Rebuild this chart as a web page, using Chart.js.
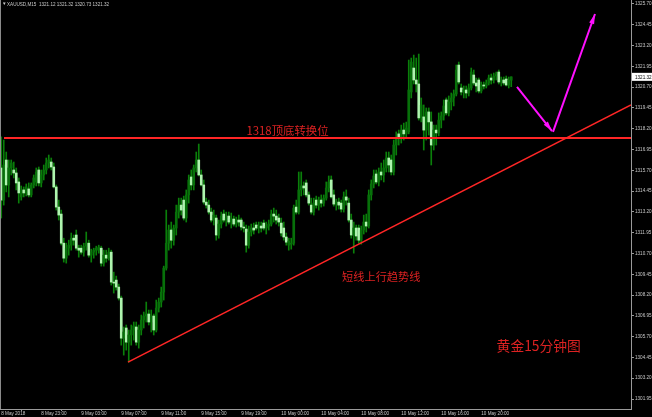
<!DOCTYPE html>
<html><head><meta charset="utf-8">
<script src="https://cdn.jsdelivr.net/npm/chart.js@4.4.1/dist/chart.umd.min.js"></script>
<style>html,body{margin:0;padding:0;background:#000;overflow:hidden}canvas{display:block}</style>
</head><body>
<canvas id="c" width="652" height="417"></canvas>
<script>
const symbolInfo = 'XAUUSD,M15';
const xTickLabels = ['8 May 2018','8 May 23:00','9 May 03:00','9 May 07:00','9 May 11:00','9 May 15:00','9 May 19:00','10 May 00:00','10 May 04:00','10 May 08:00','10 May 12:00','10 May 16:00','10 May 20:00'];
const barsPerTimeLabel = 16;
const yTickLabels = ['1325.70','1324.45','1323.20','1321.95','1320.70','1319.45','1318.20','1316.95','1315.70','1314.45','1313.20','1311.95','1310.70','1309.45','1308.20','1306.95','1305.70','1304.45','1303.20','1301.95'];

const opens = [1315.84,1313.91,1316.32,1314.82,1315.84,1315.72,1315.54,1315.00,1314.10,1314.52,1314.34,1314.58,1314.22,1314.82,1315.00,1315.72,1314.94,1315.42,1315.72,1316.14,
1316.20,1315.90,1314.70,1313.49,1313.07,1311.32,1310.42,1311.02,1311.20,1311.62,1311.81,1311.02,1311.02,1310.78,1311.14,1311.32,1310.60,1310.78,1310.90,1310.90,
1311.02,1310.12,1310.60,1310.42,1310.78,1308.98,1309.10,1308.68,1308.02,1305.61,1306.22,1305.37,1305.80,1306.10,1306.28,1305.37,1306.10,1306.70,1306.94,1307.06,
1306.58,1306.94,1306.10,1307.42,1307.78,1308.38,1309.82,1311.32,1312.11,1311.50,1312.23,1313.19,1313.61,1313.91,1312.83,1314.22,1315.30,1314.82,1315.84,1316.32,
1315.42,1314.82,1313.79,1313.61,1313.19,1312.71,1312.83,1311.81,1312.47,1313.07,1312.71,1312.95,1312.59,1312.77,1312.47,1312.71,1312.71,1312.29,1312.17,1311.20,
1311.99,1312.23,1312.41,1312.23,1312.35,1312.53,1312.23,1312.35,1312.47,1313.07,1312.95,1312.83,1312.53,1312.23,1311.69,1311.20,1311.26,1311.32,1313.49,1313.19,
1314.52,1314.76,1314.94,1314.22,1313.61,1313.19,1313.91,1313.61,1313.91,1313.73,1314.03,1314.64,1315.12,1314.22,1313.67,1313.79,1313.73,1313.37,1314.10,1313.73,
1312.71,1311.81,1312.23,1312.23,1311.50,1312.11,1312.59,1312.35,1314.22,1314.88,1315.48,1315.00,1315.60,1315.42,1315.84,1316.44,1316.32,1315.60,1317.22,1317.89,
1317.64,1318.12,1317.89,1318.01,1320.41,1321.85,1321.13,1320.89,1318.85,1318.91,1318.12,1319.21,1318.61,1317.22,1318.12,1317.95,1318.72,1318.97,1319.93,1319.15,
1319.81,1320.05,1320.29,1322.03,1320.65,1320.41,1320.53,1320.35,1320.65,1321.43,1320.95,1321.13,1320.47,1320.83,1320.77,1320.95,1321.25,1321.13,1321.37,1321.61,
1321.01,1321.13,1321.19,1320.83,1321.12];
const highs = [1317.71,1317.52,1316.80,1316.32,1316.32,1316.20,1315.84,1315.24,1314.76,1314.70,1314.88,1314.94,1314.94,1315.42,1315.84,1315.90,1315.72,1316.02,1316.44,1316.62,
1316.44,1316.14,1314.82,1313.91,1313.31,1311.62,1311.32,1311.50,1311.93,1311.81,1312.11,1311.20,1311.20,1311.32,1311.99,1311.50,1310.96,1311.02,1311.14,1311.20,
1311.14,1310.90,1310.90,1311.02,1310.90,1309.58,1309.34,1308.86,1308.14,1306.28,1306.40,1306.10,1306.40,1306.58,1306.58,1306.40,1307.00,1307.18,1307.78,1307.30,
1307.30,1307.06,1307.90,1308.02,1308.68,1309.94,1313.31,1312.41,1312.59,1312.41,1313.61,1314.03,1314.03,1314.15,1314.52,1315.42,1315.72,1316.02,1316.80,1317.28,
1315.72,1315.12,1314.03,1313.91,1313.43,1313.31,1313.01,1312.71,1313.19,1313.31,1313.19,1313.19,1313.13,1312.95,1312.89,1313.01,1312.83,1312.59,1312.41,1312.35,
1312.47,1312.53,1312.59,1312.59,1312.59,1312.71,1312.59,1312.71,1313.31,1313.43,1313.31,1313.07,1312.83,1312.59,1311.93,1311.62,1311.62,1313.61,1313.91,1315.60,
1315.60,1315.00,1315.12,1314.40,1314.03,1314.03,1314.15,1314.09,1314.22,1314.22,1315.00,1315.36,1315.36,1314.52,1313.97,1314.03,1313.91,1314.40,1314.52,1314.03,
1313.07,1312.59,1312.41,1312.41,1312.35,1313.01,1313.07,1314.52,1315.12,1315.72,1315.72,1315.84,1316.14,1316.32,1316.80,1316.80,1316.62,1317.52,1318.01,1318.12,
1318.42,1318.54,1318.60,1322.33,1322.45,1322.63,1322.45,1322.69,1320.05,1319.63,1319.45,1319.45,1319.21,1318.42,1318.42,1319.15,1319.21,1319.93,1320.05,1320.17,
1320.35,1320.53,1322.03,1322.21,1320.89,1320.77,1320.77,1320.89,1321.85,1321.73,1321.25,1321.25,1321.01,1321.01,1321.13,1321.43,1321.49,1321.55,1321.61,1321.73,
1321.31,1321.31,1321.37,1321.31,1321.32];
const lows = [1312.83,1313.61,1314.40,1314.10,1315.42,1315.24,1314.52,1313.73,1313.91,1314.10,1314.16,1314.10,1314.10,1314.64,1314.76,1314.76,1314.70,1315.12,1315.48,1315.84,
1315.72,1314.64,1313.31,1312.71,1311.21,1310.18,1310.12,1310.60,1310.90,1311.20,1310.90,1310.48,1310.66,1310.54,1310.90,1310.48,1310.18,1310.42,1310.60,1310.72,
1309.94,1309.94,1310.18,1310.30,1308.80,1308.32,1308.50,1307.90,1305.19,1304.59,1304.89,1304.17,1305.19,1305.49,1305.19,1305.01,1305.80,1306.22,1306.58,1306.40,
1305.98,1305.80,1305.98,1307.18,1307.48,1307.90,1309.70,1310.90,1311.02,1311.20,1311.81,1312.83,1313.01,1312.71,1312.59,1313.73,1314.52,1314.52,1315.60,1315.36,
1314.76,1313.67,1313.43,1313.07,1312.59,1312.41,1311.50,1311.62,1312.23,1312.59,1312.35,1312.47,1312.23,1312.35,1312.29,1312.35,1312.11,1311.99,1310.78,1311.02,
1311.75,1311.87,1312.11,1311.93,1311.99,1312.11,1311.87,1312.11,1312.35,1312.59,1312.47,1312.35,1311.75,1311.50,1311.20,1310.90,1310.96,1311.20,1313.07,1313.07,
1314.16,1314.22,1314.10,1313.61,1313.07,1313.01,1313.43,1313.31,1313.49,1313.55,1313.91,1314.40,1314.03,1313.55,1313.31,1313.37,1313.19,1313.19,1313.61,1312.59,
1311.62,1310.72,1311.50,1311.32,1311.26,1311.87,1311.99,1312.23,1313.91,1314.64,1314.88,1314.76,1315.12,1315.00,1315.60,1315.60,1315.42,1315.42,1316.62,1317.22,
1317.34,1317.52,1317.64,1317.89,1320.05,1320.89,1320.41,1318.72,1318.61,1316.92,1317.52,1317.82,1316.02,1316.92,1317.22,1317.77,1318.25,1318.72,1319.03,1318.97,
1319.33,1319.57,1320.17,1320.89,1320.23,1320.05,1320.05,1320.17,1320.53,1320.83,1320.41,1320.35,1320.35,1320.59,1320.65,1320.83,1320.89,1320.95,1321.13,1320.89,
1320.77,1320.83,1320.77,1320.65,1320.73];
const closes = [1313.91,1316.02,1314.82,1315.84,1316.14,1315.54,1314.94,1314.34,1314.52,1314.34,1314.70,1314.22,1314.82,1315.24,1315.60,1314.94,1315.42,1315.72,1316.14,1316.32,
1315.90,1314.70,1313.49,1313.01,1311.32,1310.42,1311.02,1311.20,1311.62,1311.50,1311.02,1310.90,1310.78,1311.14,1311.32,1310.60,1310.78,1310.90,1311.02,1311.08,
1310.12,1310.60,1310.42,1310.78,1308.98,1308.92,1308.68,1308.02,1305.61,1305.98,1305.37,1305.80,1306.10,1306.34,1305.37,1306.10,1306.70,1306.94,1307.06,1306.58,
1306.94,1306.10,1307.42,1307.78,1308.38,1309.82,1311.32,1312.11,1311.50,1312.23,1313.19,1313.61,1313.31,1312.83,1314.22,1315.12,1314.82,1315.84,1316.32,1315.42,
1314.82,1313.79,1313.61,1313.19,1312.71,1313.01,1311.81,1312.47,1312.95,1312.71,1312.83,1312.59,1312.77,1312.47,1312.71,1312.59,1312.29,1312.23,1311.20,1311.99,
1312.23,1312.11,1312.23,1312.35,1312.23,1312.23,1312.35,1312.47,1313.07,1312.95,1312.71,1312.59,1311.93,1311.69,1311.38,1311.44,1311.32,1313.43,1313.19,1314.52,
1314.76,1314.64,1314.22,1313.73,1313.19,1313.73,1313.61,1313.91,1313.73,1314.03,1314.64,1315.00,1314.10,1313.67,1313.79,1313.61,1313.37,1314.10,1313.91,1312.71,
1311.81,1312.23,1311.75,1311.50,1312.11,1312.59,1312.35,1314.22,1314.88,1315.36,1315.00,1315.60,1315.42,1315.84,1316.44,1316.02,1315.60,1317.22,1317.64,1317.64,
1318.12,1317.89,1318.24,1320.53,1322.21,1321.13,1320.89,1318.85,1319.63,1318.12,1319.21,1318.61,1317.22,1318.12,1317.95,1318.72,1318.97,1319.57,1319.15,1319.81,
1320.05,1320.29,1321.73,1321.01,1320.41,1320.53,1320.35,1320.65,1321.61,1320.95,1320.77,1320.47,1320.83,1320.77,1320.95,1321.25,1321.13,1321.37,1321.49,1321.01,
1321.13,1320.95,1320.83,1321.13,1321.32];

// annotations (data coordinates: x = bar index, y = price)
const supportLevel = 1317.64;
const supportFromBar = 1.1;
const trendPoints = [{x:50.7, y:1304.17}, {x:251.9, y:1319.63}];
const arrowDown = [{x:206.3, y:1320.71}, {x:220.3, y:1318.06}];
const arrowUp = [{x:220.7, y:1318.01}, {x:237.5, y:1325.10}];
const noteTexts = ['1318顶底转换位', '短线上行趋势线', '黄金15分钟图'];
const noteX = [114.5, 152.0, 215.0];
const noteY = [1318.06, 1309.31, 1305.13];
const noteSizes = [11.4, 11.2, 13.8];

const X_MIN = -0.5, X_MAX = 251.9, Y_MIN = 1301.35, Y_MAX = 1325.94;
const WICK = '#0a7f0a', BULL = '#07700a', BEAR = '#aef4ae';
const RED = '#ff2626', MAGENTA = '#ff10ff', NOTE_RED = '#dc2222', AXIS = '#9a9a9a', LABEL = '#c8c8c8';

const wickData = lows.map((l, i) => ({x: i, y: [l, highs[i]]}));
const bodyData = opens.map((o, i) => ({x: i, y: [o, closes[i]]}));
const bodyColors = opens.map((o, i) => closes[i] >= o ? BULL : BEAR);
const last = closes.length - 1;

const overlay = {
  id: 'overlay',
  afterDatasetsDraw(chart) {
    const {ctx, scales: {x, y}} = chart;
    ctx.save();
    ctx.fillStyle = MAGENTA;
    [arrowDown, arrowUp].forEach(([a, b]) => {
      const ax = x.getPixelForValue(a.x), ay = y.getPixelForValue(a.y);
      const bx = x.getPixelForValue(b.x), by = y.getPixelForValue(b.y);
      const ang = Math.atan2(by - ay, bx - ax);
      const len = 10, hw = 2.6;
      const cx = bx - len * Math.cos(ang), cy = by - len * Math.sin(ang);
      ctx.beginPath();
      ctx.moveTo(bx, by);
      ctx.lineTo(cx + hw * Math.sin(ang), cy - hw * Math.cos(ang));
      ctx.lineTo(cx - hw * Math.sin(ang), cy + hw * Math.cos(ang));
      ctx.closePath();
      ctx.fill();
    });
    ctx.textAlign = 'center';
    ctx.textBaseline = 'middle';
    ctx.fillStyle = NOTE_RED;
    noteTexts.forEach((t, k) => {
      ctx.font = noteSizes[k] + 'px "Noto Sans CJK SC"';
      ctx.fillText(t, x.getPixelForValue(noteX[k]), y.getPixelForValue(noteY[k]));
    });
    ctx.restore();
  },
  afterDraw(chart) {
    const {ctx, chartArea, scales: {y}} = chart;
    ctx.save();
    ctx.fillStyle = '#8a8a8a';
    ctx.fillRect(0, 0, 1, chartArea.bottom);
    ctx.fillStyle = LABEL;
    ctx.font = '4.6px "Liberation Sans"';
    ctx.textAlign = 'left';
    ctx.textBaseline = 'middle';
    ctx.fillText('▼', 2, 4);
    ctx.fillText(symbolInfo + '  ' + opens[last].toFixed(2) + ' ' + highs[last].toFixed(2) + ' ' + lows[last].toFixed(2) + ' ' + closes[last].toFixed(2), 7, 4.5);
    const py = y.getPixelForValue(closes[last]);
    ctx.fillStyle = '#ffffff';
    ctx.fillRect(chartArea.right + 1, py - 4, 20, 8);
    ctx.fillStyle = '#000000';
    ctx.fillText(closes[last].toFixed(2), chartArea.right + 4, py + 0.5);
    ctx.restore();
  }
};

new Chart(document.getElementById('c'), {
  type: 'bar',
  data: {
    datasets: [
      {type: 'line', data: [{x: supportFromBar, y: supportLevel}, {x: X_MAX, y: supportLevel}], borderColor: RED, borderWidth: 2, pointRadius: 0, order: 0},
      {type: 'line', data: trendPoints, borderColor: RED, borderWidth: 1.6, pointRadius: 0, order: 0},
      {type: 'line', data: arrowDown, borderColor: MAGENTA, borderWidth: 2, pointRadius: 0, order: 0},
      {type: 'line', data: arrowUp, borderColor: MAGENTA, borderWidth: 2, pointRadius: 0, order: 0},
      {type: 'bar', data: bodyData, backgroundColor: bodyColors, barThickness: 2, grouped: false, minBarLength: 1, order: 2},
      {type: 'bar', data: wickData, backgroundColor: WICK, barThickness: 1, grouped: false, order: 3}
    ]
  },
  options: {
    responsive: false,
    devicePixelRatio: 1,
    animation: false,
    events: [],
    layout: {padding: 0},
    plugins: {legend: {display: false}, tooltip: {enabled: false}},
    scales: {
      x: {
        type: 'linear', min: X_MIN, max: X_MAX, offset: false,
        afterBuildTicks: s => { s.ticks = xTickLabels.map((_, k) => ({value: k * barsPerTimeLabel})); },
        afterFit: s => { s.height = 8; s.paddingLeft = 0; s.paddingRight = 0; },
        ticks: {align: 'start', autoSkip: false, maxRotation: 0, padding: 0, color: LABEL,
          font: {family: 'Liberation Sans', size: 4.6},
          callback: v => xTickLabels[Math.round(v / barsPerTimeLabel)]},
        grid: {drawOnChartArea: false, color: AXIS, tickLength: 2},
        border: {color: AXIS, width: 1}
      },
      y: {
        position: 'right', min: Y_MIN, max: Y_MAX,
        afterBuildTicks: s => { s.ticks = yTickLabels.map(v => ({value: parseFloat(v)})); },
        afterFit: s => { s.width = 21; s.paddingTop = 0; s.paddingBottom = 0; },
        ticks: {autoSkip: false, padding: 1, color: LABEL,
          font: {family: 'Liberation Sans', size: 4.6},
          callback: v => Number(v).toFixed(2)},
        grid: {drawOnChartArea: false, color: AXIS, tickLength: 3},
        border: {color: AXIS, width: 1}
      }
    }
  },
  plugins: [overlay]
});
</script>
</body></html>
